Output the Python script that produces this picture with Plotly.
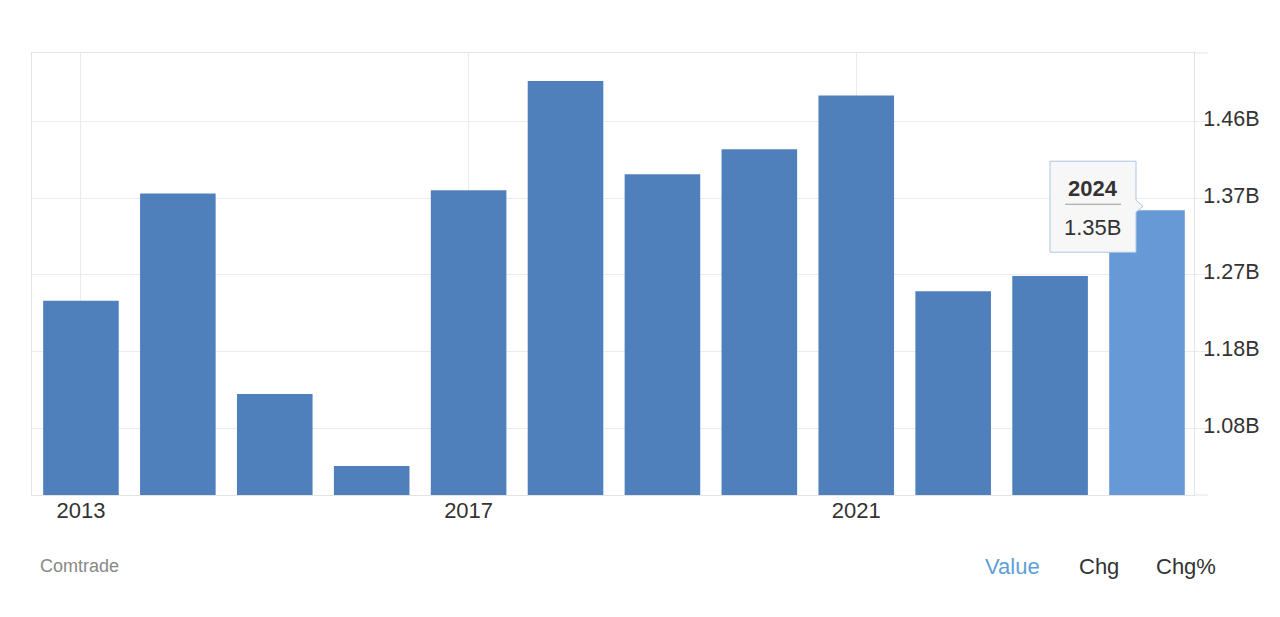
import plotly.graph_objects as go

# ---- data ----
years = [2013, 2014, 2015, 2016, 2017, 2018, 2019, 2020, 2021, 2022, 2023, 2024]
values_b = [1.239, 1.373, 1.123, 1.033, 1.377, 1.513, 1.397, 1.428, 1.495, 1.251, 1.270, 1.352]
y_tick_vals = [1.0805, 1.176, 1.2715, 1.367, 1.4625]
y_tick_text = ["1.08B", "1.18B", "1.27B", "1.37B", "1.46B"]
x_tick_years = [2013, 2017, 2021]
highlight_year = 2024
highlight_label = "1.35B"
source_text = "Comtrade"
tab_labels = ["Value", "Chg", "Chg%"]

# ---- style ----
FONT = "Arial, Liberation Sans, sans-serif"
BAR = "#4f80bc"
BAR_HI = "#6699d5"
GRID = "#ebebeb"
TEXT = "#333333"
TIP_BG = "#f7f7f7"
TIP_BORDER = "#a9c6e6"

colors = [BAR_HI if y == highlight_year else BAR for y in years]

fig = go.Figure()
fig.add_trace(go.Bar(
    x=years, y=values_b, marker_color=colors, marker_line_width=0,
    hoverinfo="skip", showlegend=False,
))

# page body has an 8px margin, so the figure is drawn at (8, 8)
fig.update_layout(
    width=1264, height=601,
    margin=dict(l=24, r=78, t=45, b=114),
    paper_bgcolor="white", plot_bgcolor="white",
    bargap=0.22,
    font=dict(family=FONT, color=TEXT, size=20),
)

fig.update_xaxes(
    range=[2012.495, 2024.485],
    tickmode="array", tickvals=x_tick_years, ticktext=[str(y) for y in x_tick_years],
    showgrid=True, gridcolor=GRID, gridwidth=1,
    showline=True, linecolor="#e3e3e3", linewidth=1, mirror=True,
    ticks="", ticklabelstandoff=-4,
    tickfont=dict(size=22, color=TEXT), zeroline=False,
)
fig.update_yaxes(
    side="right",
    range=[0.997, 1.548],
    tickmode="array", tickvals=y_tick_vals, ticktext=y_tick_text,
    showgrid=True, gridcolor=GRID, gridwidth=1,
    showline=True, linecolor="#e3e3e3", linewidth=1, mirror=True,
    ticks="outside", ticklen=14, tickcolor=GRID, tickwidth=1,
    ticklabelstandoff=-10, ticklabelshift=-3,
    tickfont=dict(size=21.5, color=TEXT), zeroline=False,
)

# extend top & bottom border lines to the right like the reference
for yv in (0, 1):
    fig.add_shape(type="line", xref="paper", yref="paper",
                  x0=1, x1=1 + 14 / 1162, y0=yv, y1=yv,
                  line=dict(color="#e3e3e3", width=1))

# tooltip
hi_val = values_b[years.index(highlight_year)]
tip_common = dict(xref="x", yref="y", xsizemode="pixel", ysizemode="pixel",
                  xanchor=highlight_year, yanchor=hi_val)
fig.add_shape(type="path",
              path="M -97 49 L -11 49 L -11 10 L -4 4 L -11 -2 L -11 -42 L -97 -42 Z",
              fillcolor=TIP_BG, line=dict(color=TIP_BORDER, width=1), **tip_common)
fig.add_shape(type="line", x0=-82, x1=-26, y0=6, y1=6,
              line=dict(color="#999999", width=1), **tip_common)
fig.add_annotation(
    x=highlight_year, y=hi_val, xref="x", yref="y", xshift=-54, yshift=22,
    text=f"<b>{highlight_year}</b>", showarrow=False,
    font=dict(size=22, color=TEXT, family=FONT),
)
fig.add_annotation(
    x=highlight_year, y=hi_val, xref="x", yref="y", xshift=-54, yshift=-17,
    text=highlight_label, showarrow=False,
    font=dict(size=22, color=TEXT, family=FONT),
)

# source + tabs
fig.add_annotation(
    text=source_text, xref="paper", yref="paper",
    x=(38 - 32) / 1162, y=-71 / 442, xanchor="left", yanchor="middle",
    showarrow=False, font=dict(size=18, color="#888888", family=FONT),
)
tab_x = [1012, 1099, 1186]
tab_colors = ["#5ea0d6", TEXT, TEXT]
for lbl, px, c in zip(tab_labels, tab_x, tab_colors):
    fig.add_annotation(
        text=lbl, xref="paper", yref="paper",
        x=(px - 32) / 1162, y=-71 / 442, xanchor="center", yanchor="middle",
        showarrow=False, font=dict(size=22, color=c, family=FONT),
    )

fig.write_html("out.html")
